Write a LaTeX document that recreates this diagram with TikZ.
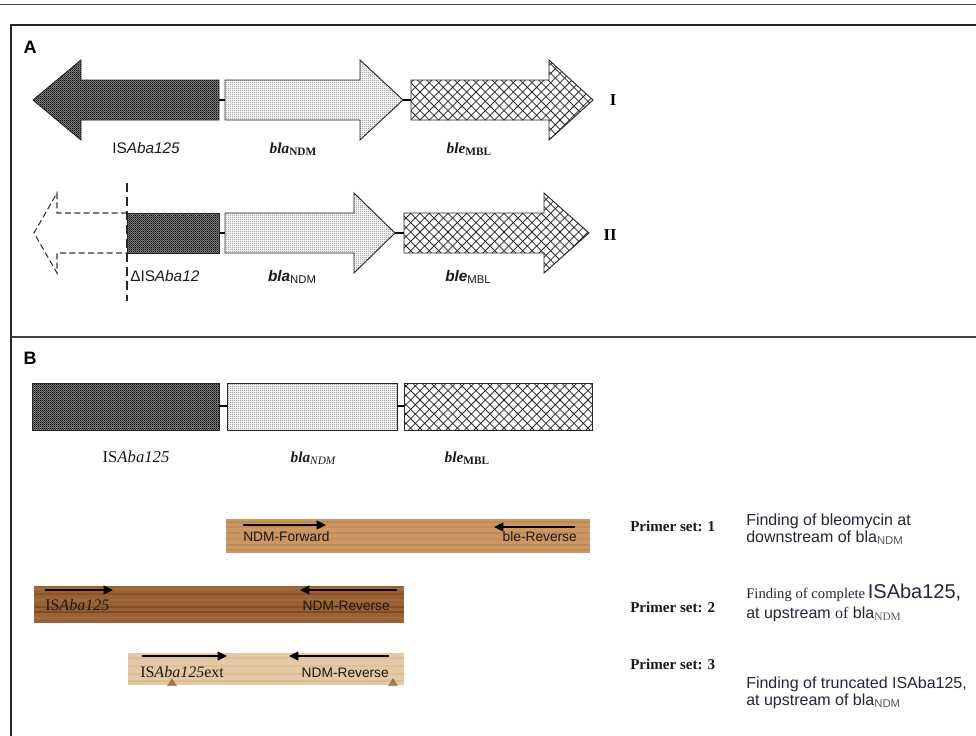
\documentclass[tikz,border=0pt]{standalone}
\usepackage{fontspec}
\setmainfont{Liberation Serif}
\setsansfont{Liberation Sans}
\usetikzlibrary{arrows.meta,patterns}
\pgfdeclarepatternformonly{darkcheck}{\pgfpointorigin}{\pgfpoint{1.6pt}{1.6pt}}{\pgfpoint{1.6pt}{1.6pt}}{%
 \pgfpathrectangle{\pgfpointorigin}{\pgfpoint{0.8pt}{0.8pt}}%
 \pgfpathrectangle{\pgfpoint{0.8pt}{0.8pt}}{\pgfpoint{0.8pt}{0.8pt}}%
 \pgfusepath{fill}}
\pgfdeclarepatternformonly{stipple}{\pgfpointorigin}{\pgfpoint{1.6pt}{1.6pt}}{\pgfpoint{1.6pt}{1.6pt}}{%
 \pgfpathcircle{\pgfpoint{0.4pt}{0.4pt}}{0.38pt}\pgfusepath{fill}}
\pgfdeclarepatternformonly{diamondmesh}{\pgfpoint{-0.5pt}{-0.5pt}}{\pgfpoint{7.5pt}{7.5pt}}{\pgfpoint{7pt}{7pt}}{%
 \pgfsetlinewidth{0.55pt}%
 \pgfpathmoveto{\pgfpoint{0pt}{0pt}}\pgfpathlineto{\pgfpoint{7pt}{7pt}}%
 \pgfpathmoveto{\pgfpoint{0pt}{7pt}}\pgfpathlineto{\pgfpoint{7pt}{0pt}}%
 \pgfusepath{stroke}}
\definecolor{framecol}{HTML}{1C2834}
\definecolor{desccol}{HTML}{2B2238}
\definecolor{woodA}{HTML}{CB9763}
\definecolor{woodAd}{HTML}{A9723F}
\definecolor{woodB}{HTML}{9A6234}
\definecolor{woodBd}{HTML}{6A3A17}
\definecolor{woodBl}{HTML}{B27C48}
\definecolor{woodC}{HTML}{E5C8A4}
\definecolor{woodCd}{HTML}{CDA77F}
\newcommand\fs[1]{\fontsize{#1}{#1}\selectfont}
\newcommand\lowsub[2]{\raisebox{-#1}{#2}}
\begin{document}
\begin{tikzpicture}[x=0.75pt,y=-0.75pt,
  gene/.style={draw=black!85, line width=0.7pt, line join=miter},
  isfill/.style={gene, preaction={fill=black!48}, pattern=darkcheck, pattern color=black},
  blafill/.style={gene, preaction={fill=black!6}, pattern=stipple, pattern color=black!70},
  blefill/.style={gene, preaction={fill=white}, pattern=diamondmesh, pattern color=black!85},
  link/.style={draw=black, line width=1.2pt},
  ghost/.style={draw=black!80, line width=0.8pt, dash pattern=on 4.5pt off 2.5pt},
  cutline/.style={draw=black!85, line width=0.8pt, dash pattern=on 7pt off 3.5pt},
  panel/.style={font=\sffamily\bfseries\fs{13.5}, inner sep=0pt},
  lbl/.style={inner sep=0pt, anchor=base, text=black!90},
  primer/.style={-{Triangle[length=7pt,width=6.5pt]}, line width=1.3pt, black},
  bartext/.style={inner sep=0pt, font=\sffamily\fs{10.3}, text=black!90},
  pset/.style={inner sep=0pt, anchor=base west, font=\rmfamily\bfseries\fs{11.3}, text=black!90},
  desc/.style={inner sep=0pt, anchor=base west, font=\sffamily\fs{12}, text=desccol}]
\useasboundingbox (0,0) rectangle (976,736);
\fill[white] (0,0) rectangle (976,736);
% rules and frame
\draw[black!70, line width=1.2pt] (0,4.5) -- (976,4.5);
\draw[framecol, line width=2.2pt] (976,25) -- (11,25) -- (11,736);
\draw[black!75, line width=1.6pt] (11,337) -- (976,337);
\node[panel] (pA) at (30,47) {A};
\node[panel] (pB) at (30,358) {B};

% ---------------- Row I ----------------
\draw[isfill] (33,100) -- (81,60) -- (81,80) -- (219,80) -- (219,120) -- (81,120) -- (81,140) -- cycle;
\draw[blafill] (225,80) -- (360,80) -- (360,60) -- (403,100) -- (360,140) -- (360,120) -- (225,120) -- cycle;
\draw[blefill] (411,80) -- (549,80) -- (549,60) -- (593,100) -- (549,140) -- (549,120) -- (411,120) -- cycle;
\coordinate (isR1) at (219,100); \coordinate (blaL1) at (225,100);
\coordinate (blaR1) at (403,100); \coordinate (bleL1) at (411,100);
\draw[link] (isR1) -- (blaL1);
\draw[link] (blaR1) -- (bleL1);
\node[inner sep=0pt, font=\rmfamily\bfseries\fs{12.5}] (rI) at (613,100) {I};
\node[lbl, font=\sffamily\fs{11.5}] (lIS1) at (146,153) {IS\textit{Aba125}};
\node[lbl] (lbla1) at (293,153) {\fs{11.5}\bfseries\itshape bla\lowsub{2.2pt}{\upshape\fs{8.5}NDM}};
\node[lbl] (lble1) at (469,153) {\fs{11.5}\bfseries\itshape ble\lowsub{2.2pt}{\upshape\fs{8.5}MBL}};

% ---------------- Row II ----------------
\draw[ghost] (127,213) -- (57,213) -- (57,193) -- (34,233) -- (57,273) -- (57,253) -- (127,253);
\draw[isfill] (127,213) rectangle (219,253);
\draw[cutline] (127,183) -- (127,301);
\draw[blafill] (225,213) -- (354,213) -- (354,193) -- (395,233) -- (354,273) -- (354,253) -- (225,253) -- cycle;
\draw[blefill] (404,213) -- (544,213) -- (544,193) -- (589,233) -- (544,273) -- (544,253) -- (404,253) -- cycle;
\coordinate (isR2) at (219,233); \coordinate (blaL2) at (225,233);
\coordinate (blaR2) at (395,233); \coordinate (bleL2) at (404,233);
\draw[link] (isR2) -- (blaL2);
\draw[link] (blaR2) -- (bleL2);
\node[inner sep=0pt, font=\rmfamily\bfseries\fs{12.5}] (rII) at (610,235) {II};
\node[inner sep=0pt, anchor=base west, font=\sffamily\fs{11.5}, text=black!90] (lIS2) at (130,281) {ΔIS\textit{Aba12}};
\node[lbl] (lbla2) at (292,281) {\sffamily\fs{11.5}\bfseries\itshape bla\lowsub{1.5pt}{\upshape\mdseries\fs{8.5}NDM}};
\node[lbl] (lble2) at (468,281) {\sffamily\fs{11.5}\bfseries\itshape ble\lowsub{1.5pt}{\upshape\mdseries\fs{8.5}MBL}};

% ---------------- Section B genes ----------------
\draw[isfill] (32,383) rectangle (219,430);
\draw[blafill] (227,383) rectangle (397,430);
\draw[blefill] (404,383) rectangle (592,430);
\coordinate (isR3) at (219,406); \coordinate (blaL3) at (227,406);
\coordinate (blaR3) at (397,406); \coordinate (bleL3) at (404,406);
\draw[link] (isR3) -- (blaL3);
\draw[link] (blaR3) -- (bleL3);
\node[lbl, font=\rmfamily\fs{12.5}] (lIS3) at (136,462) {IS\textit{Aba125}};
\node[lbl] (lbla3) at (313,462) {\fs{11.5}\bfseries\itshape bla\lowsub{1.5pt}{\mdseries\fs{8.5}NDM}};
\node[lbl] (lble3) at (467,462) {\fs{11.5}\bfseries\itshape ble\lowsub{1.5pt}{\upshape\fs{8.5}MBL}};

% ---------------- Primer bars ----------------
% bar 1
\fill[woodA] (226,519) rectangle (590,553);
\foreach \yy/\op in {522/0.35,527/0.25,533/0.3,539/0.2,545/0.35,550/0.25}
  \draw[woodAd, opacity=\op, line width=1.2pt] (226,\yy) -- (590,\yy);
\coordinate (f1a) at (243,525); \coordinate (f1b) at (326,525);
\coordinate (r1a) at (575,527); \coordinate (r1b) at (494,527);
\draw[primer] (f1a) -- (f1b);
\draw[primer] (r1a) -- (r1b);
\node[bartext, anchor=base west] (t1a) at (243,541) {NDM-Forward};
\node[bartext, anchor=base east] (t1b) at (577,541) {ble-Reverse};
% bar 2
\fill[woodB] (34,586) rectangle (404,623);
\foreach \yy/\cc/\op in {589/woodBl/0.5,594/woodBd/0.3,600/woodBl/0.35,607/woodBd/0.45,612/woodBd/0.6,618/woodBl/0.4}
  \draw[\cc, opacity=\op, line width=1.5pt] (34,\yy) -- (404,\yy);
\coordinate (f2a) at (45,590); \coordinate (f2b) at (113,590);
\coordinate (r2a) at (397,590); \coordinate (r2b) at (300,590);
\draw[primer] (f2a) -- (f2b);
\draw[primer] (r2a) -- (r2b);
\node[inner sep=0pt, anchor=base west, font=\rmfamily\fs{12}, text=black!90] (t2a) at (45,610) {IS\textit{Aba125}};
\node[bartext, anchor=base east] (t2b) at (390,610) {NDM-Reverse};
% bar 3
\fill[woodC] (128,653) rectangle (404,685);
\foreach \yy/\op in {658/0.3,666/0.25,674/0.3,681/0.35}
  \draw[woodCd, opacity=\op, line width=1.2pt] (128,\yy) -- (404,\yy);
\fill[woodBd, opacity=0.55] (167,686) -- (172,678) -- (177,686) -- cycle;
\fill[woodBd, opacity=0.55] (388,686) -- (393,678) -- (398,686) -- cycle;
\coordinate (f3a) at (142,656); \coordinate (f3b) at (227,656);
\coordinate (r3a) at (389,656); \coordinate (r3b) at (289,656);
\draw[primer] (f3a) -- (f3b);
\draw[primer] (r3a) -- (r3b);
\node[inner sep=0pt, anchor=base west, font=\rmfamily\fs{12}, text=black!90] (t3a) at (140,677) {IS\textit{Aba125}ext};
\node[bartext, anchor=base east] (t3b) at (389,677) {NDM-Reverse};

% ---------------- Primer set descriptions ----------------
\node[pset] (ps1) at (630,531) {Primer set: 1};
\node[pset] (ps2) at (630,612) {Primer set: 2};
\node[pset] (ps3) at (630,669) {Primer set: 3};
\node[desc] (d1a) at (746,525) {Finding of bleomycin at};
\node[desc] (d1b) at (746,542) {downstream of bla\lowsub{1.5pt}{\fs{8.5}\color{black!65}NDM}};
\node[desc] (d2a) at (746,598) {{\rmfamily\fs{11}Finding of complete}\,{\fs{15}ISAba125,}};
\node[desc] (d2b) at (746,618) {at upstream {\rmfamily of} bla\lowsub{1.5pt}{\rmfamily\fs{8.5}\color{black!65}NDM}};
\node[desc] (d3a) at (746,688) {Finding of truncated ISAba125,};
\node[desc] (d3b) at (746,705) {at upstream of bla\lowsub{1.5pt}{\fs{8.5}\color{black!65}NDM}};
\end{tikzpicture}
\end{document}
